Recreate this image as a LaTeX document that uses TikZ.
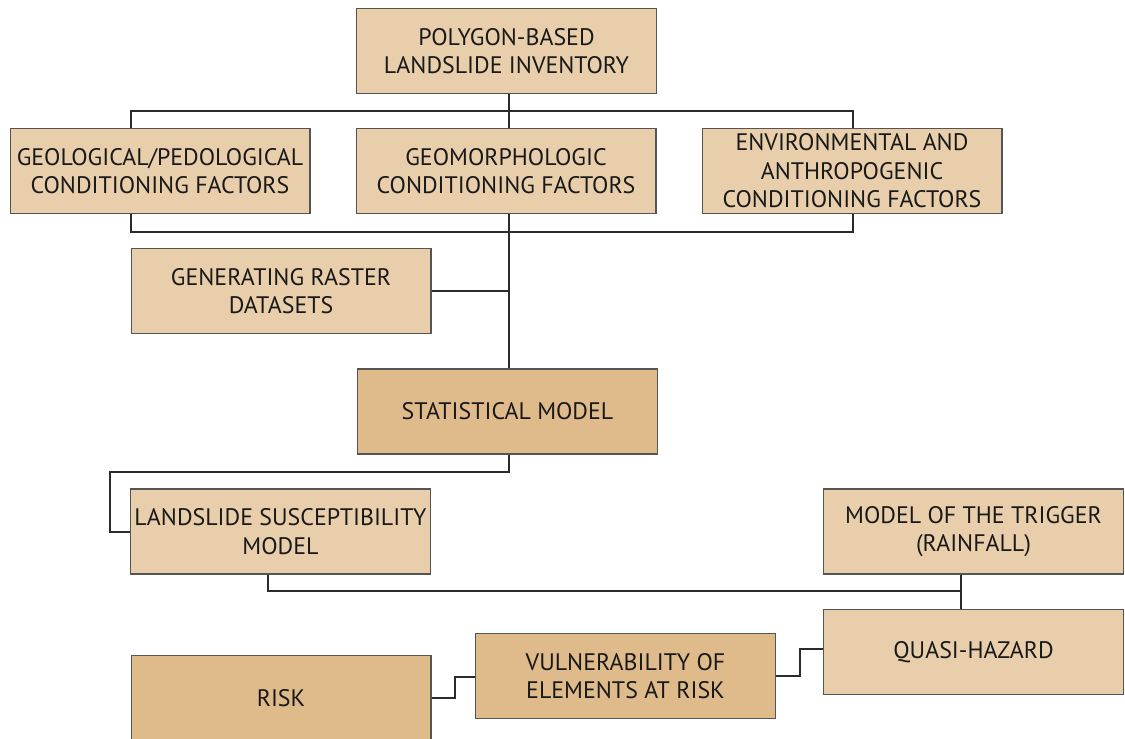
\documentclass[tikz,border=0pt]{standalone}
\usepackage{fontspec}
\setmainfont{PT Sans}
\usetikzlibrary{positioning}
\definecolor{boxlight}{HTML}{E8CEAB}
\definecolor{boxdark}{HTML}{DFBB8B}
\definecolor{linegray}{HTML}{2B2B2B}

\begin{document}
\begin{tikzpicture}[x=0.02cm, y=-0.02cm,
        stage/.style={rectangle, draw=linegray!80, fill=boxlight, line width=0.6pt,
        minimum width=6cm, minimum height=1.7cm, align=center, inner sep=1pt,
        font=\fontsize{13.6}{16.2}\selectfont, text=black!90},
        keystage/.style={stage, fill=boxdark},
        link/.style={draw=linegray, line width=0.6pt}]
        \useasboundingbox (0,0) rectangle (1125,738);

        \node [stage] (inventory) at (506.5,51) {POLYGON-BASED\\LANDSLIDE INVENTORY};
        \node [stage] (geolog) at (160,171) {GEOLOGICAL/PEDOLOGICAL\\CONDITIONING FACTORS};
        \node [stage] (geomorph) at (506,171) {GEOMORPHOLOGIC\\CONDITIONING FACTORS};
        \node [stage] (environ) at (852,171) {ENVIRONMENTAL AND\\ANTHROPOGENIC\\CONDITIONING FACTORS};
        \node [stage] (raster) at (281,291) {GENERATING RASTER\\DATASETS};
        \node [keystage] (statmodel) at (507.5,411.5) {STATISTICAL MODEL};
        \node [stage] (suscept) at (280.5,531.5) {LANDSLIDE SUSCEPTIBILITY\\MODEL};
        \node [stage] (trigger) at (973.5,531.5) {MODEL OF THE TRIGGER\\(RAINFALL)};
        \node [stage] (quasi) at (973.5,652) {QUASI-HAZARD};
        \node [keystage] (vulner) at (625.5,676) {VULNERABILITY OF\\ELEMENTS AT RISK};
        \node [keystage] (risk) at (281,698) {RISK};

        % upper and lower bus of the factors
        \coordinate (topbus) at (509,111);
        \coordinate (lowbus) at (509,232);
        \draw [link] (inventory.south -| topbus) -- (topbus);
        \draw [link] (geolog.north -| 131,0) |- (topbus) -| (environ.north -| 853,0);
        \draw [link] (topbus) -- (geomorph.north -| topbus);
        \draw [link] (geolog.south -| 131,0) |- (lowbus) -| (environ.south -| 853,0);
        \draw [link] (geomorph.south -| lowbus) -- (statmodel.north -| lowbus);
        \draw [link] (raster.east) -- (raster.east -| lowbus);

        % model chain
        \draw [link] (statmodel.south -| 509,0) -- (509,472) -| (110,532) -- (suscept.west |- 0,532);
        \draw [link] (suscept.south -| 268,0) |- (961,591);
        \draw [link] (trigger.south -| 961,0) -- (quasi.north -| 961,0);
        \draw [link] (quasi.west |- 0,649) -- (800,649) |- (vulner.east |- 0,676);
        \draw [link] (vulner.west |- 0,677) -- (455,677) |- (risk.east |- 0,698);
\end{tikzpicture}
\end{document}
